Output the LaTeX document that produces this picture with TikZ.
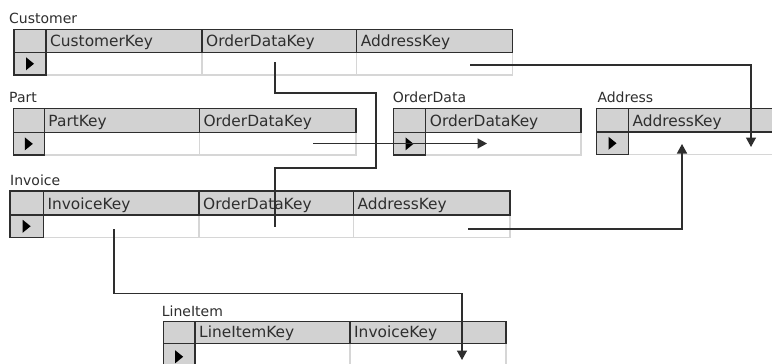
\documentclass[tikz,border=0pt]{standalone}
\usepackage{fontspec}
\setmainfont{DejaVu Sans}
\usetikzlibrary{arrows.meta}
\definecolor{hdrgray}{HTML}{D2D2D2}
\definecolor{cellline}{HTML}{D6D6D6}
\definecolor{ink}{HTML}{2E2E2E}
\tikzset{
  hdrcell/.style={fill=hdrgray, draw=ink, line width=1.4pt},
  datacell/.style={draw=cellline, line width=1.1pt, fill=white},
  selcell/.style={fill=hdrgray, draw=ink, line width=1.4pt},
  hdrtext/.style={anchor=base west, inner sep=0pt, font=\fontsize{15.4}{15.4}\selectfont, text=ink},
  tbllabel/.style={anchor=base west, inner sep=0pt, font=\fontsize{14}{14}\selectfont, text=ink},
  link/.style={draw=ink, line width=1.4pt},
  linkarrow/.style={link, -{Triangle[length=9.5pt,width=10pt]}},
}
% #1 id, #2 left, #3 selector right, #4 top, #5 header bottom, #6 bottom,
% #7 list of right-edge/column-name pairs
\newcommand\dbtable[7]{%
  \foreach \redge/\hname [remember=\redge as \ledge (initially #3)] in {#7} {
    \path[datacell] (\ledge,#5) rectangle (\redge,#6);
  }
  \foreach \redge/\hname [remember=\redge as \ledge (initially #3)] in {#7} {
    \path[hdrcell] (\ledge,#4) rectangle (\redge,#5);
    \node[hdrtext] (#1-\hname) at (\ledge+4,#5-6) {\hname};
  }
  \path[selcell] (#2,#4) rectangle (#3,#5);
  \path[selcell] (#2,#5) rectangle (#3,#6);
  \fill[black] ({(#2+#3)/2-4},{(#5+#6)/2-6.5}) -- ++(8,6.5) -- ++(-8,6.5) -- cycle;
}
\begin{document}
\begin{tikzpicture}[x=1pt,y=-1pt]
  \useasboundingbox (0,0) rectangle (772,364);
  \clip (0,0) rectangle (772,364);
  \fill[white] (0,0) rectangle (772,364);

  % tables
  \node[tbllabel] (lbl-cust) at (9,23.3) {Customer};
  \dbtable{cust}{14}{46}{29.3}{52.5}{75}{202/CustomerKey,356.7/OrderDataKey,512.7/AddressKey}

  \node[tbllabel] (lbl-part) at (9,102) {Part};
  \dbtable{part}{13.3}{44.3}{108.3}{132.7}{155}{199.3/PartKey,356/OrderDataKey}

  \node[tbllabel] (lbl-od) at (392.7,102) {OrderData};
  \dbtable{od}{393.3}{425.7}{108.3}{132.7}{155}{581/OrderDataKey}

  \node[tbllabel] (lbl-addr) at (597.3,102) {Address};
  \dbtable{addr}{596.7}{628.3}{108.3}{132}{154.5}{790/AddressKey}

  \node[tbllabel] (lbl-inv) at (10,185.7) {Invoice};
  \dbtable{inv}{10}{43.3}{191}{215}{237.5}{199/InvoiceKey,353.3/OrderDataKey,510/AddressKey}

  \node[tbllabel] (lbl-li) at (161.7,316.7) {LineItem};
  \dbtable{li}{163.3}{195}{321.7}{343.5}{370}{350/LineItemKey,506/InvoiceKey}

  % connector end points
  \coordinate (cust-odk) at (275,62);
  \coordinate (inv-odk) at (275,227);
  \coordinate (cust-addr) at (470,65);
  \coordinate (addr-down) at (751,147);
  \coordinate (part-odk) at (313,143.5);
  \coordinate (od-in) at (487,143.5);
  \coordinate (inv-addr) at (468,229);
  \coordinate (addr-up) at (682,144);
  \coordinate (inv-key) at (114,229);
  \coordinate (li-inv) at (462,360);

  % relationships
  \draw[link] (cust-odk) -- (275,93) -- (376,93) -- (376,168) -| (inv-odk);
  \draw[linkarrow] (cust-addr) -| (addr-down);
  \draw[linkarrow] (part-odk) -- (od-in);
  \draw[linkarrow] (inv-addr) -| (addr-up);
  \draw[linkarrow] (inv-key) -- (114,293.5) -| (li-inv);
\end{tikzpicture}
\end{document}
